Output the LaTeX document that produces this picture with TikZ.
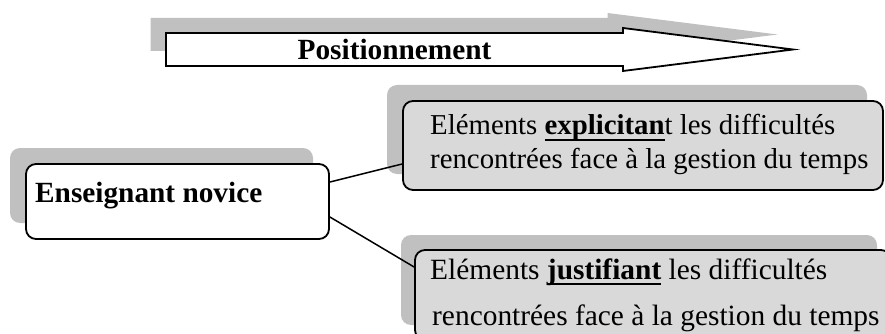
\documentclass[tikz,border=0pt]{standalone}
\usepackage{fontspec}
\setmainfont{Liberation Serif}
\usetikzlibrary{shadows}
\definecolor{shadowgray}{HTML}{C0C0C0}
\definecolor{boxgray}{HTML}{D9D9D9}
\newcommand\wordul[1]{\setbox0\hbox{#1}\rlap{\rule[-6pt]{\wd0}{2pt}}\box0\relax}
\begin{document}
\begin{tikzpicture}[x=1pt,y=-1pt,
  roundbox/.style={draw=black, line width=1.8pt, rounded corners=10pt, inner sep=0pt,
    general shadow={fill=shadowgray, shadow xshift=-16pt, shadow yshift=16pt}},
  roundboxb/.style={draw=black, line width=1.8pt, rounded corners=10pt, inner sep=0pt,
    general shadow={fill=shadowgray, shadow xshift=-14pt, shadow yshift=15pt}},
  txt/.style={inner sep=0pt, anchor=base west, font=\fontsize{28.8}{33}\selectfont},
  btxt/.style={inner sep=0pt, anchor=base west, font=\bfseries\fontsize{29.3}{33}\selectfont},
  link/.style={line width=1.5pt},
  arrowshadow/.style={fill=shadowgray},
  arrowbody/.style={fill=white, draw=black, line width=1.8pt, line join=miter}]
\useasboundingbox (0,0) rectangle (885,334);
% progress arrow
\fill[arrowshadow] (150.5,18) -- (607.5,18) -- (607.5,13) -- (777.5,34.5) -- (607.5,56) -- (607.5,51) -- (150.5,51) -- cycle;
\draw[arrowbody] (166,33) -- (623,33) -- (623,28) -- (793,49.5) -- (623,71) -- (623,66) -- (166,66) -- cycle;
\node[btxt, anchor=base] (pos) at (394.5,60) {Positionnement};
% boxes
\node[roundbox, fill=boxgray, minimum width=480pt, minimum height=89pt] (expl) at (643,145.5) {};
\node[txt] (expl1) at (430,135) {Eléments \wordul{\textbf{explicitan}}t les difficultés};
\node[txt] (expl2) at (430,168) {rencontrées face à la gestion du temps};
\node[roundboxb, fill=boxgray, minimum width=476pt, minimum height=90pt] (just) at (653,295) {};
\node[txt, font=\fontsize{29.4}{33}\selectfont] (just1) at (430,279) {Eléments \wordul{\textbf{justifiant}} les difficultés};
\node[txt, font=\fontsize{29.4}{33}\selectfont] (just2) at (432,325) {rencontrées face à la gestion du temps};
\node[roundbox, fill=white, minimum width=303pt, minimum height=75pt] (novice) at (177.5,201.5) {};
\node[btxt] (novicetxt) at (35,202) {Enseignant novice};
% connectors
\draw[link] ([yshift=19.5pt]novice.east) -- ([yshift=-18.5pt]expl.west);
\draw[link] ([yshift=-15.5pt]novice.east) -- ([yshift=28pt]just.west);
\end{tikzpicture}
\end{document}
